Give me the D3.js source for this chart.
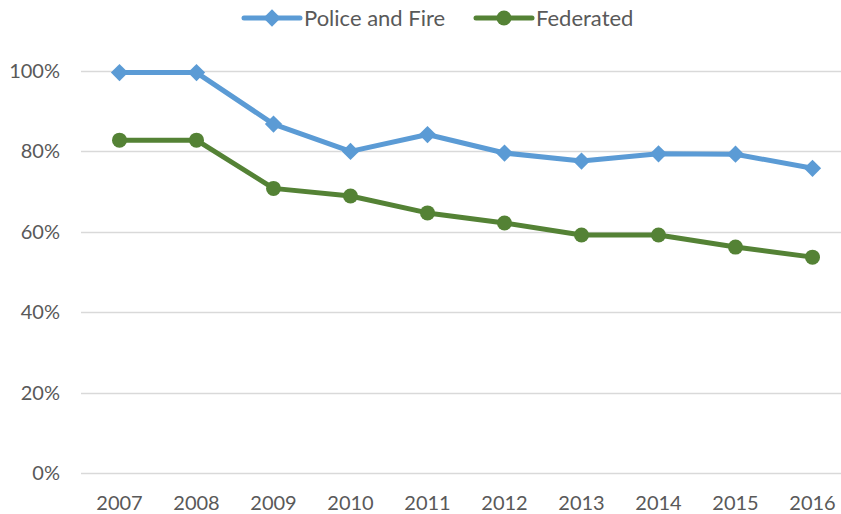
<!DOCTYPE html>
<html>
<head>
<meta charset="utf-8">
<script src="https://cdn.jsdelivr.net/npm/d3@7"></script>
<style>
  body { margin: 0; background: #fff; }
  text { font-family: "Lato", "Open Sans", sans-serif; fill: #595959; }
</style>
</head>
<body>
<div id="chart"></div>
<script>
// data
var years = ["2007", "2008", "2009", "2010", "2011", "2012", "2013", "2014", "2015", "2016"];
var policeFire = [99.6, 99.6, 86.8, 80.0, 84.2, 79.6, 77.6, 79.4, 79.3, 75.8];
var federated = [82.8, 82.8, 70.8, 68.9, 64.7, 62.2, 59.2, 59.2, 56.2, 53.7];
var yTicks = [0, 20, 40, 60, 80, 100];

var width = 841;
var height = 514;
var margin = { top: 71, right: -10, bottom: 41, left: 81 };

var series = [
    { name: "Police and Fire", values: policeFire, color: "#5B9BD5", shape: "diamond" },
    { name: "Federated", values: federated, color: "#548235", shape: "circle" }
];

var svg = d3.select("#chart")
    .append("svg")
    .attr("width", width)
    .attr("height", height);

var x = d3.scaleBand()
    .domain(years)
    .range([margin.left, width - margin.right]);

var y = d3.scaleLinear()
    .domain([0, 100])
    .range([height - margin.bottom, margin.top]);

// gridlines
svg.append("g")
    .selectAll("line")
    .data(yTicks)
    .enter()
    .append("line")
    .attr("x1", margin.left)
    .attr("x2", width - margin.right)
    .attr("y1", d => Math.round(y(d)) + 0.5)
    .attr("y2", d => Math.round(y(d)) + 0.5)
    .attr("stroke", "#d9d9d9")
    .attr("stroke-width", 1.5);

// y labels
svg.append("g")
    .selectAll("text")
    .data(yTicks)
    .enter()
    .append("text")
    .attr("x", 60)
    .attr("y", d => y(d))
    .attr("dy", "0.35em")
    .style("text-anchor", "end")
    .style("font-size", "20px")
    .text(d => d + "%");

// x labels
svg.append("g")
    .selectAll("text")
    .data(years)
    .enter()
    .append("text")
    .attr("x", d => x(d) + x.bandwidth() / 2)
    .attr("y", 503)
    .attr("dy", "0.35em")
    .style("text-anchor", "middle")
    .style("font-size", "20px")
    .text(d => d);

var line = d3.line()
    .x((d, i) => x(years[i]) + x.bandwidth() / 2)
    .y(d => y(d));

var diamond = d3.symbol().type(d3.symbolDiamond2).size(190);

series.forEach(function(s) {
    svg.append("path")
        .datum(s.values)
        .attr("d", line)
        .attr("fill", "none")
        .attr("stroke", s.color)
        .attr("stroke-width", 5)
        .attr("stroke-linejoin", "round");

    var g = svg.append("g");
    if (s.shape === "diamond") {
        g.selectAll("path")
            .data(s.values)
            .enter()
            .append("path")
            .attr("d", diamond)
            .attr("transform", (d, i) => "translate(" + (x(years[i]) + x.bandwidth() / 2) + "," + y(d) + ")")
            .attr("fill", s.color);
    } else {
        g.selectAll("circle")
            .data(s.values)
            .enter()
            .append("circle")
            .attr("cx", (d, i) => x(years[i]) + x.bandwidth() / 2)
            .attr("cy", d => y(d))
            .attr("r", 7.5)
            .attr("fill", s.color);
    }
});

// legend
var legendX = [244, 476];
var legend = svg.append("g")
    .selectAll("g")
    .data(series)
    .enter()
    .append("g")
    .attr("transform", (d, i) => "translate(" + legendX[i] + ",18)");

legend.append("line")
    .attr("x1", 0)
    .attr("x2", 56)
    .attr("stroke", d => d.color)
    .attr("stroke-width", 5)
    .attr("stroke-linecap", "round");

legend.append("path")
    .filter(d => d.shape === "diamond")
    .attr("d", diamond)
    .attr("transform", "translate(28,0)")
    .attr("fill", d => d.color);

legend.append("circle")
    .filter(d => d.shape === "circle")
    .attr("cx", 28)
    .attr("r", 7.5)
    .attr("fill", d => d.color);

legend.append("text")
    .attr("x", 60)
    .attr("dy", "0.35em")
    .style("font-size", "22px")
    .text(d => d.name);
</script>
</body>
</html>
